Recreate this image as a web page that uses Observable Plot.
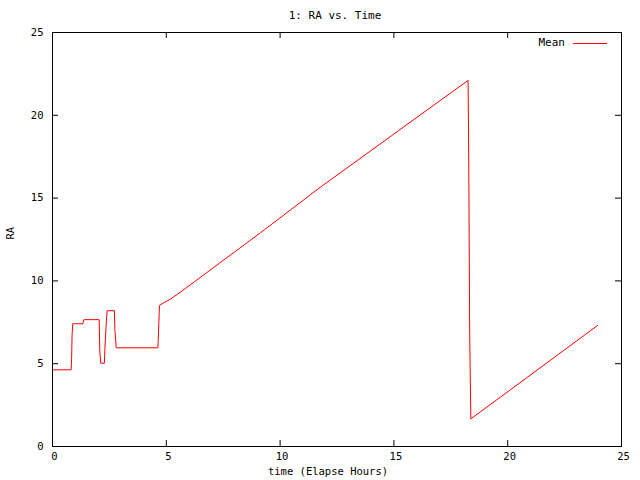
<!DOCTYPE html>
<html>
<head>
<meta charset="utf-8">
<script src="https://cdn.jsdelivr.net/npm/d3@7"></script>
<script src="https://cdn.jsdelivr.net/npm/@observablehq/plot@0.6"></script>
<style>
  body { margin: 0; background: white; font-family: "DejaVu Sans Mono", monospace; font-size: 11px; color: black; }
  #wrap { position: relative; width: 640px; height: 480px; }
  #title { position: relative; height: 24px; }
  #title span { position: absolute; top: 10px; left: 52px; width: 566px; text-align: center; line-height: 12px; }
  #legend { position: absolute; top: 37px; left: 480px; width: 127px; display: flex; justify-content: flex-end; align-items: center; line-height: 12px; }
  #legend .swatch { display: inline-block; width: 34px; height: 0; border-top: 1px solid #ff0000; margin-left: 8px; }
</style>
</head>
<body>
<div id="wrap">
  <div id="title"><span>1: RA vs. Time</span></div>
  <div id="chart"></div>
  <div id="legend"><span>Mean</span><span class="swatch"></span></div>
</div>
<script>
// Data
const time = [0, 0.82, 0.84, 0.86, 0.89, 1.33, 1.38, 2.05, 2.08, 2.12, 2.28, 2.30, 2.36, 2.40, 2.72, 2.74, 2.80, 4.63, 4.65, 4.70, 4.89, 5.18, 5.62, 9.14, 11.78, 18.26, 18.29, 18.33, 18.38, 19.68, 23.95];
const ra   = [4.63, 4.63, 5.30, 6.70, 7.41, 7.41, 7.66, 7.66, 5.70, 5.03, 5.03, 5.84, 7.41, 8.20, 8.20, 7.05, 5.96, 5.96, 6.60, 8.52, 8.68, 8.90, 9.32, 12.91, 15.67, 22.11, 16.98, 6.77, 1.67, 2.98, 7.31];
const xTicks = [0, 5, 10, 15, 20, 25];
const yTicks = [0, 5, 10, 15, 20, 25];
const innerTicksX = [5, 10, 15, 20];
const innerTicksY = [5, 10, 15, 20];
const seriesName = "Mean";
const xLabel = "time (Elapse Hours)";
const yLabel = "RA";

const data = time.map((t, i) => ({time: t, ra: ra[i]}));

const W = 640, H = 456;
const mL = 52, mR = 19, mT = 8, mB = 34;
const innerW = W - mL - mR, innerH = H - mT - mB;
const tickLen = 6;

const chart = Plot.plot({
  width: W,
  height: H,
  marginLeft: mL,
  marginRight: mR,
  marginTop: mT,
  marginBottom: mB,
  style: {fontFamily: "DejaVu Sans Mono, monospace", fontSize: "10.5px", color: "black", background: "white"},
  x: {domain: [0, 25]},
  y: {domain: [0, 25]},
  marks: [
    Plot.axisX({ticks: xTicks, tickSize: 0, tickPadding: 6, dx: 2, tickFormat: d => String(d), label: null}),
    Plot.axisY({ticks: yTicks, tickSize: 0, tickPadding: 9, tickFormat: d => String(d), label: null}),
    Plot.text([xLabel], {frameAnchor: "bottom", dy: 28, dx: -9, text: d => d, fill: "black"}),
    Plot.text([yLabel], {frameAnchor: "left", dx: -42, rotate: -90, text: d => d, fill: "black"}),
    // inward ticks (gnuplot style, mirrored)
    Plot.tickX(innerTicksX, {x: d => d, stroke: "black", insetTop: innerH - tickLen}),
    Plot.tickX(innerTicksX, {x: d => d, stroke: "black", insetBottom: innerH - tickLen}),
    Plot.tickY(innerTicksY, {y: d => d, stroke: "black", insetRight: innerW - tickLen}),
    Plot.tickY(innerTicksY, {y: d => d, stroke: "black", insetLeft: innerW - tickLen}),
    Plot.line(data, {x: "time", y: "ra", stroke: "#ff0000", strokeWidth: 1}),
    Plot.frame({stroke: "black"})
  ]
});
document.getElementById("chart").appendChild(chart);
</script>
</body>
</html>
